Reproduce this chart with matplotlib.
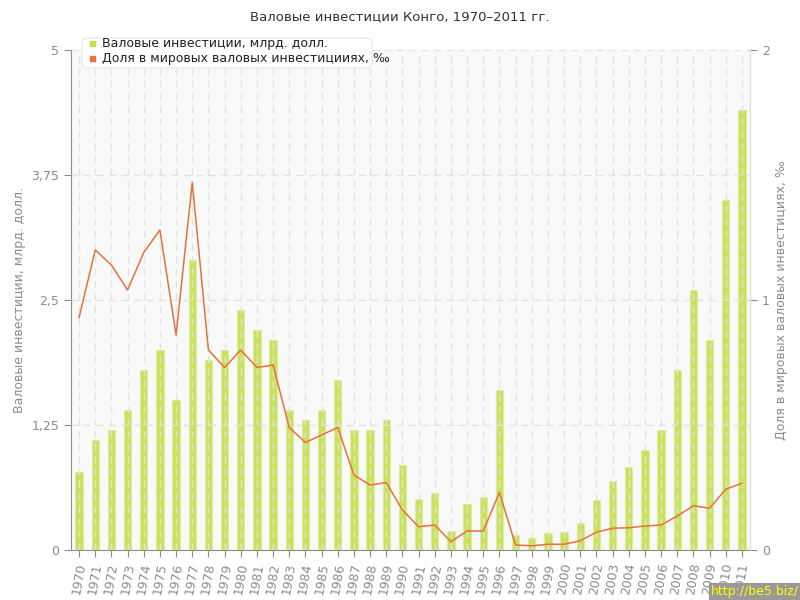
import numpy as np
import matplotlib
matplotlib.use("Agg")
import matplotlib.pyplot as plt
from matplotlib.patches import FancyBboxPatch, Rectangle

years = [str(y) for y in range(1970, 2012)]
investments = [0.78, 1.1, 1.2, 1.4, 1.8, 2.0, 1.5, 2.9, 1.9, 2.0,
               2.4, 2.2, 2.1, 1.4, 1.3, 1.4, 1.7, 1.2, 1.2, 1.3,
               0.85, 0.51, 0.57, 0.19, 0.46, 0.53, 1.6, 0.15, 0.12, 0.17,
               0.18, 0.27, 0.50, 0.69, 0.83, 1.0, 1.2, 1.8, 2.6, 2.1,
               3.5, 4.4]
world_share = [0.93, 1.2, 1.14, 1.04, 1.19, 1.28, 0.86, 1.47, 0.80, 0.73,
               0.80, 0.73, 0.74, 0.49, 0.43, 0.46, 0.49, 0.30, 0.26, 0.27,
               0.16, 0.093, 0.10, 0.033, 0.076, 0.076, 0.23, 0.02, 0.017, 0.023,
               0.023, 0.037, 0.071, 0.087, 0.089, 0.096, 0.10, 0.136, 0.177, 0.167,
               0.243, 0.267]
left_ticks = [0, 1.25, 2.5, 3.75, 5]
left_labels = ["0", "1,25", "2,5", "3,75", "5"]
right_ticks = [0, 1, 2]

BAR_COLOR = "#c5e04a"
LINE_COLOR = "#e8703f"
GRAY = "#8c8c8c"

plt.rcParams["font.family"] = ["DejaVu Sans"]

fig = plt.figure(figsize=(8, 6), dpi=100)
ax = fig.add_axes([71 / 800, 50 / 600, 679 / 800, 500 / 600])
ax.set_facecolor("#f9f9f9")

x = np.arange(len(years))
ax.bar(x, investments, width=0.45, color=BAR_COLOR, edgecolor="#dcef9a",
       linewidth=0.8, zorder=2, alpha=0.9)

ax.set_xlim(-0.5, len(years) - 0.5)
ax.set_ylim(0, 5)
ax.set_yticks(left_ticks)
ax.set_yticklabels(left_labels)
ax.set_xticks(x)
ax.set_xticklabels(years, rotation=80, fontsize=9, color=GRAY)
ax.tick_params(axis="y", colors=GRAY, labelsize=9, length=5)
ax.tick_params(axis="x", colors=GRAY, length=5)
ax.set_ylabel("Валовые инвестиции, млрд. долл.", color=GRAY, fontsize=9)

# dashed grid drawn over the bars
ax.grid(True, axis="both", linestyle=(0, (5, 4)), color="#e2e2e2",
        linewidth=1, zorder=3)
ax.set_axisbelow(False)
ax.spines["top"].set_visible(False)
ax.spines["right"].set_color("#dddddd")
ax.spines["left"].set_color(GRAY)
ax.spines["bottom"].set_color(GRAY)

ax2 = ax.twinx()
ax2.plot(x, world_share, color=LINE_COLOR, linewidth=1.1, zorder=4)
ax2.set_ylim(0, 2)
ax2.set_yticks(right_ticks)
ax2.tick_params(axis="y", colors=GRAY, labelsize=9, length=5)
ax2.set_ylabel("Доля в мировых валовых инвестициях, ‰", color=GRAY, fontsize=9)
for s in ["top", "left", "bottom"]:
    ax2.spines[s].set_visible(False)
ax2.spines["right"].set_color("#dddddd")

fig.text(0.5, 1 - 17 / 600, "Валовые инвестиции Конго, 1970–2011 гг.",
         ha="center", va="center", fontsize=9.5, color="#333333")

# legend box
box = FancyBboxPatch((82 / 800, 1 - 68 / 600), 290 / 800, 30 / 600,
                     boxstyle="round,pad=0,rounding_size=0.008",
                     transform=fig.transFigure, facecolor="white",
                     edgecolor="#e6e6e6", linewidth=0.8, zorder=10)
fig.patches.append(box)
fig.patches.append(Rectangle((90 / 800, 1 - 46 / 600), 5 / 800, 5 / 600,
                             transform=fig.transFigure, color=BAR_COLOR, zorder=11))
fig.patches.append(Rectangle((90 / 800, 1 - 61 / 600), 5 / 800, 5 / 600,
                             transform=fig.transFigure, color=LINE_COLOR, zorder=11))
fig.text(102 / 800, 1 - 43.5 / 600, "Валовые инвестиции, млрд. долл.",
         fontsize=9, va="center", color="#222222", zorder=12)
fig.text(102 / 800, 1 - 58.5 / 600, "Доля в мировых валовых инвестицииях, ‰",
         fontsize=9, va="center", color="#222222", zorder=12)

# watermark
fig.text(0.999, 0.003, "http://be5.biz/", ha="right", va="bottom",
         fontsize=9, color="#ffff00",
         bbox=dict(facecolor="#999999", edgecolor="none", pad=1.5))

fig.savefig("out.png", dpi=100)
